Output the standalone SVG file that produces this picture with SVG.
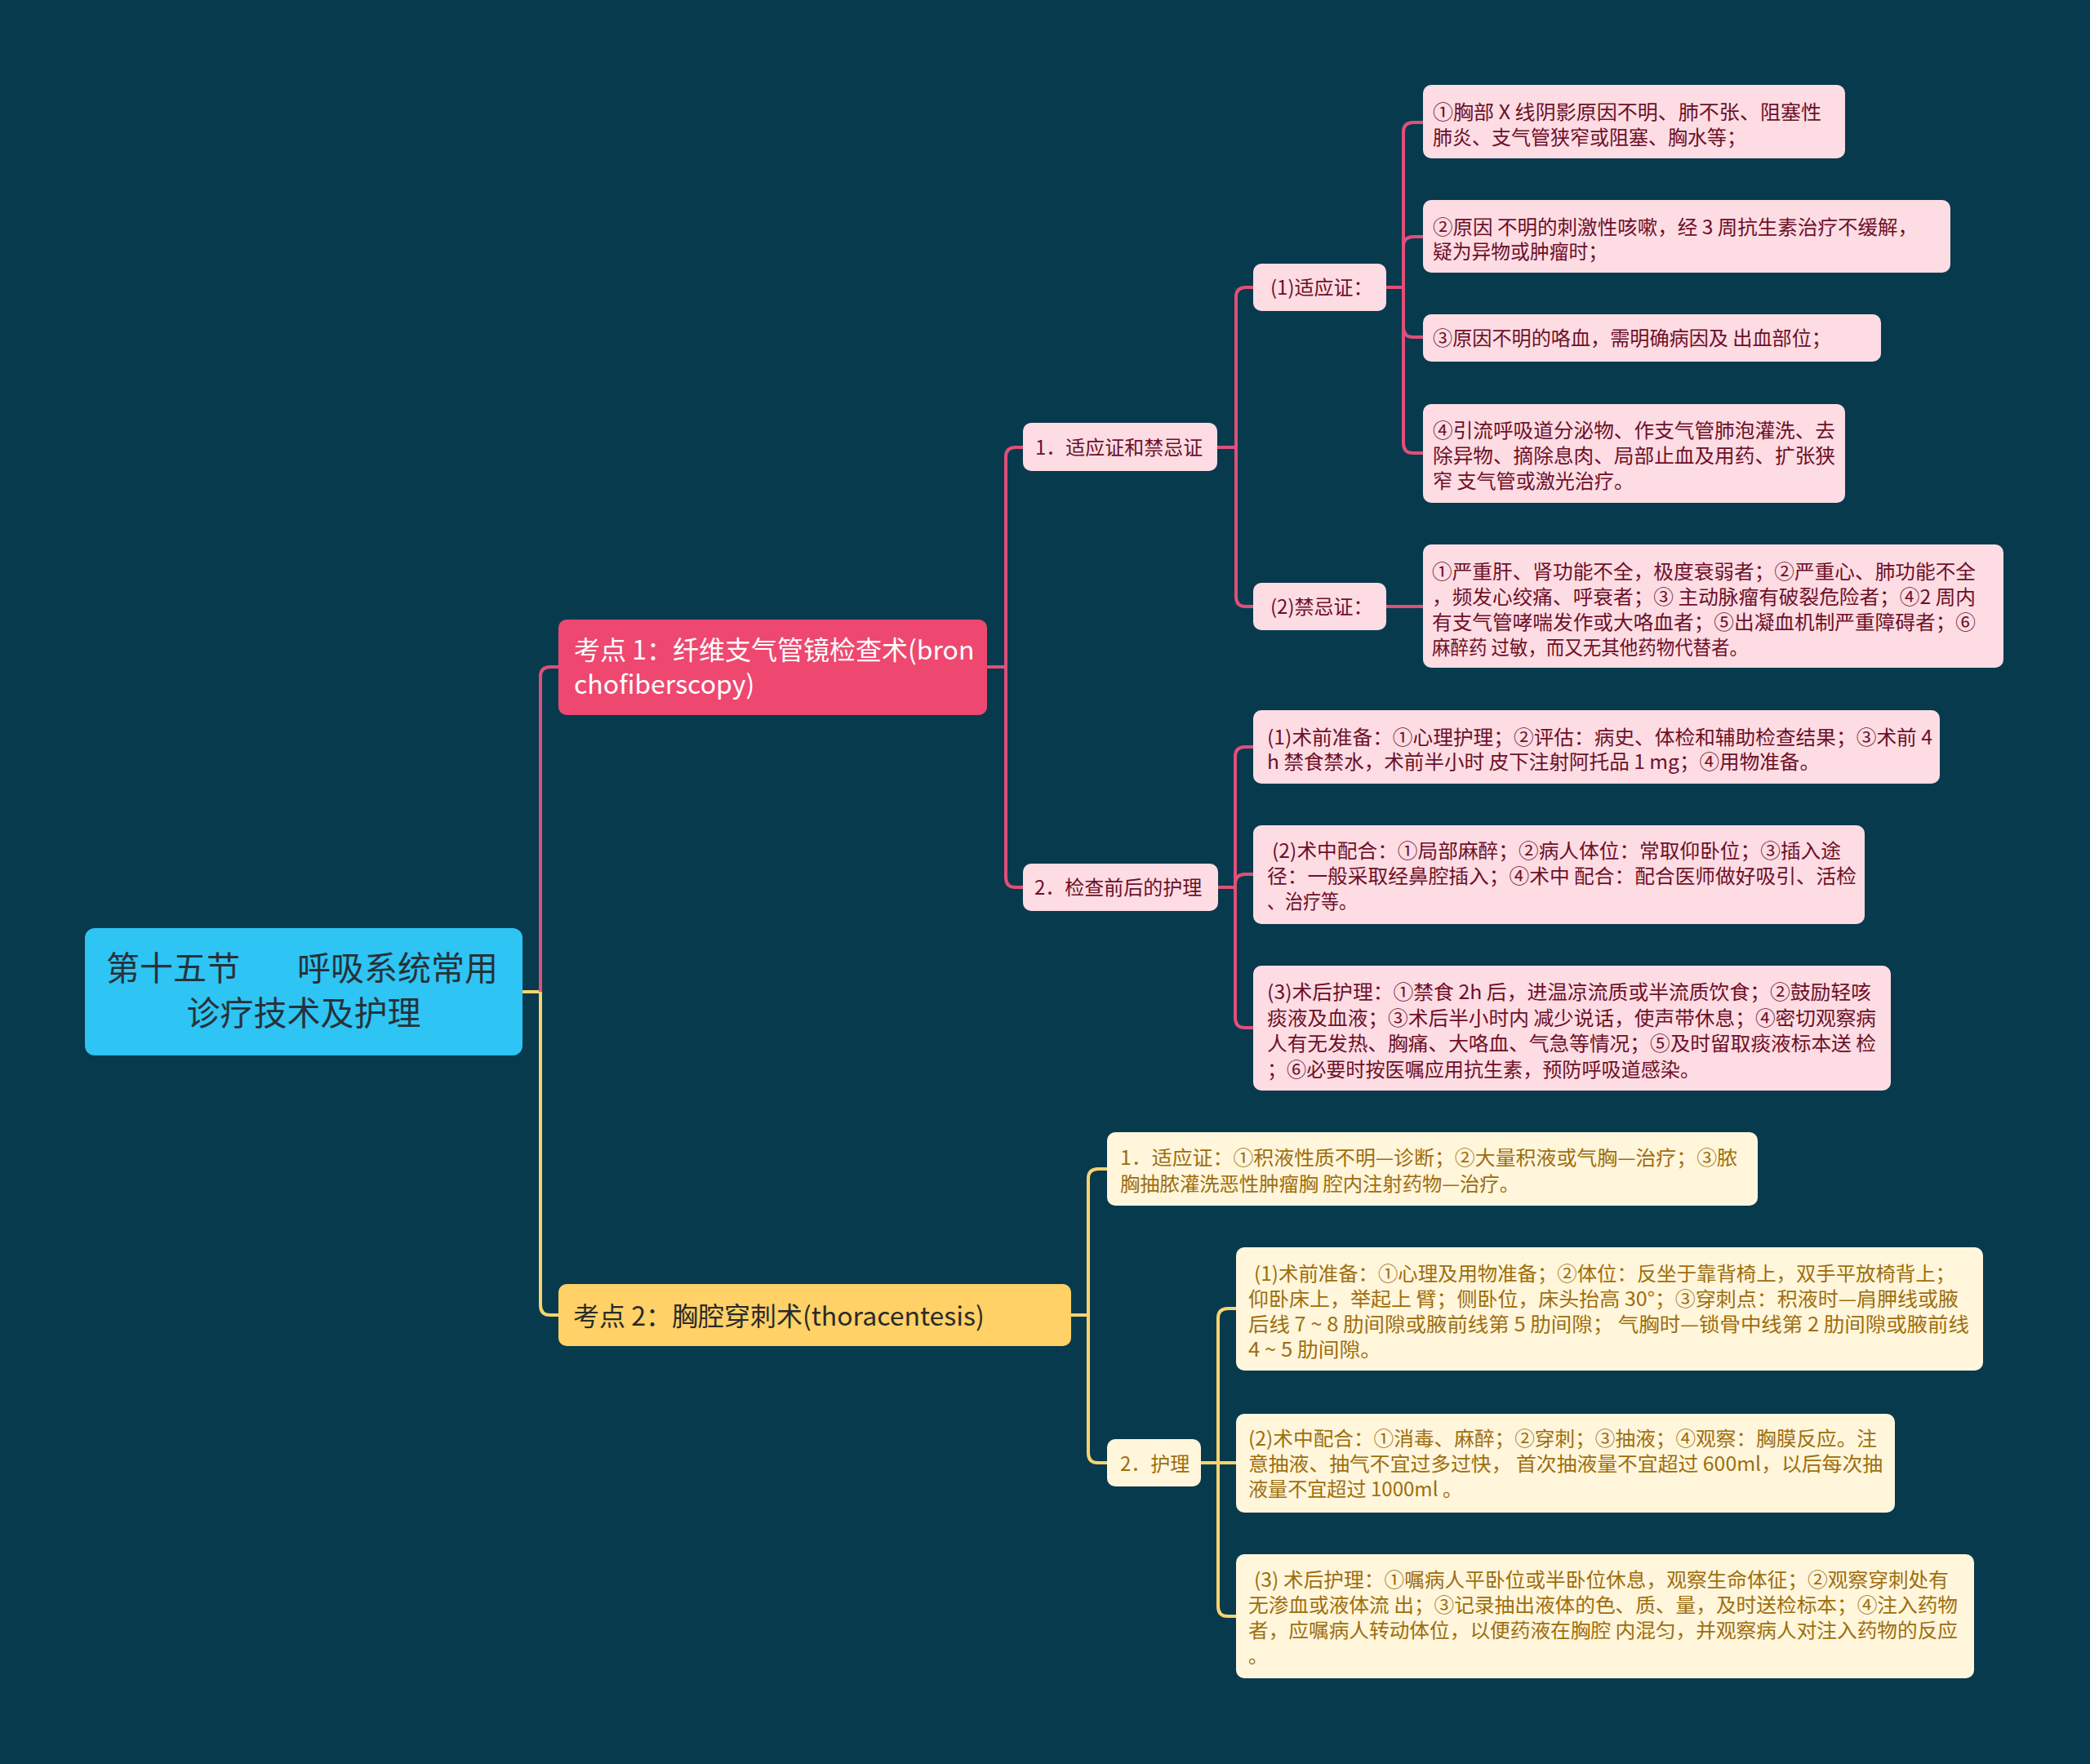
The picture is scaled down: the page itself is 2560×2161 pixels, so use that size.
<svg xmlns="http://www.w3.org/2000/svg" width="2560" height="2161" viewBox="0 0 2560 2161">
<style>
text{font-family:"Noto Sans CJK SC","Noto Sans",sans-serif;}
.cp{fill:none;stroke:#DE507A;stroke-width:4;}
.cy{fill:none;stroke:#F7D36E;stroke-width:4;}
.pk{fill:#FDDCE4;}
.ye{fill:#FFF6DC;}
.tp{fill:#6E1027;font-size:24px;}
.ty{fill:#9E6E0E;font-size:24px;}
</style>
<rect x="0" y="0" width="2560" height="2161" fill="#083A4D"/>
<g id="connectors">
<path class="cy" d="M640,1215 H662 V1599 Q662,1611 674,1611 H684"/>
<path class="cp" d="M662,1215 V829 Q662,817 674,817 H684"/>
<path class="cp" d="M1209,817 H1232 M1232,817 V560 Q1232,548 1244,548 H1253 M1232,817 V1075 Q1232,1087 1244,1087 H1253"/>
<path class="cp" d="M1491,548 H1514 M1514,548 V364 Q1514,352 1526,352 H1535 M1514,548 V731 Q1514,743 1526,743 H1535"/>
<path class="cp" d="M1698,352 H1719 M1719,352 V162 Q1719,150 1731,150 H1743 M1719,352 V302 Q1719,290 1731,290 H1743 M1719,352 V401 Q1719,413 1731,413 H1743 M1719,352 V543 Q1719,555 1731,555 H1743"/>
<path class="cp" d="M1698,743 H1743"/>
<path class="cp" d="M1492,1087 H1513 M1513,1087 V927 Q1513,915 1525,915 H1535 M1513,1087 V1083 Q1513,1071 1525,1071 H1535 M1513,1087 V1247 Q1513,1259 1525,1259 H1535"/>
<path class="cy" d="M1312,1611 H1333 M1333,1611 V1444 Q1333,1432 1345,1432 H1356 M1333,1611 V1780 Q1333,1792 1345,1792 H1356"/>
<path class="cy" d="M1471,1792 H1514 M1492,1792 V1615 Q1492,1603 1504,1603 H1514 M1492,1792 V1968 Q1492,1980 1504,1980 H1514"/>
</g>
<g id="root">
<rect x="104" y="1137" width="536" height="156" rx="12" fill="#2EC4F4"/>
<text font-size="41" fill="#263238"><tspan x="130" y="1201">第十五节</tspan><tspan x="364" y="1201">呼吸系统常用</tspan></text>
<text x="372" y="1256" font-size="41" fill="#263238" text-anchor="middle">诊疗技术及护理</text>
</g>
<g id="topic1">
<rect x="684" y="759" width="525" height="117" rx="10" fill="#EE4870"/>
<text font-size="32" fill="#FFFFFF"><tspan x="703" y="808">考点 1：纤维支气管镜检查术(bron</tspan><tspan x="703" y="850">chofiberscopy)</tspan></text>
</g>
<g id="topic2">
<rect x="684" y="1573" width="628" height="76" rx="10" fill="#FFD166"/>
<text x="702" y="1624" font-size="32" fill="#2A2A2A">考点 2：胸腔穿刺术(thoracentesis)</text>
</g>
<g id="n1">
<rect class="pk" x="1253" y="518" width="238" height="59" rx="10"/>
<text class="tp" x="1268" y="557">1．适应证和禁忌证</text>
</g>
<g id="n2">
<rect class="pk" x="1253" y="1058" width="239" height="58" rx="10"/>
<text class="tp" x="1267" y="1096">2．检查前后的护理</text>
</g>
<g id="n11">
<rect class="pk" x="1535" y="323" width="163" height="58" rx="10"/>
<text class="tp" x="1556" y="361">(1)适应证：</text>
</g>
<g id="n12">
<rect class="pk" x="1535" y="714" width="163" height="58" rx="10"/>
<text class="tp" x="1556" y="752">(2)禁忌证：</text>
</g>
<g id="a1">
<rect class="pk" x="1743" y="104" width="517" height="90" rx="10"/>
<text class="tp" x="1755" y="146" textLength="476" lengthAdjust="spacingAndGlyphs">①胸部 X 线阴影原因不明、肺不张、阻塞性</text>
<text class="tp" x="1755" y="177" textLength="384" lengthAdjust="spacingAndGlyphs">肺炎、支气管狭窄或阻塞、胸水等；</text>
</g>
<g id="a2">
<rect class="pk" x="1743" y="245" width="646" height="89" rx="10"/>
<text class="tp" x="1755" y="287" textLength="594" lengthAdjust="spacingAndGlyphs">②原因 不明的刺激性咳嗽，经 3 周抗生素治疗不缓解，</text>
<text class="tp" x="1755" y="317" textLength="214" lengthAdjust="spacingAndGlyphs">疑为异物或肿瘤时；</text>
</g>
<g id="a3">
<rect class="pk" x="1743" y="385" width="561" height="58" rx="10"/>
<text class="tp" x="1755" y="423" textLength="488" lengthAdjust="spacingAndGlyphs">③原因不明的咯血，需明确病因及 出血部位；</text>
</g>
<g id="a4">
<rect class="pk" x="1743" y="495" width="517" height="121" rx="10"/>
<text class="tp" x="1755" y="536" textLength="493" lengthAdjust="spacingAndGlyphs">④引流呼吸道分泌物、作支气管肺泡灌洗、去</text>
<text class="tp" x="1755" y="567" textLength="493" lengthAdjust="spacingAndGlyphs">除异物、摘除息肉、局部止血及用药、扩张狭</text>
<text class="tp" x="1755" y="598" textLength="246" lengthAdjust="spacingAndGlyphs">窄 支气管或激光治疗。</text>
</g>
<g id="b1">
<rect class="pk" x="1743" y="667" width="711" height="151" rx="10"/>
<text class="tp" x="1754" y="709" textLength="666" lengthAdjust="spacingAndGlyphs">①严重肝、肾功能不全，极度衰弱者；②严重心、肺功能不全</text>
<text class="tp" x="1754" y="740" textLength="666" lengthAdjust="spacingAndGlyphs">，频发心绞痛、呼衰者；③ 主动脉瘤有破裂危险者；④2 周内</text>
<text class="tp" x="1754" y="771" textLength="666" lengthAdjust="spacingAndGlyphs">有支气管哮喘发作或大咯血者；⑤出凝血机制严重障碍者；⑥</text>
<text class="tp" x="1754" y="802" textLength="387" lengthAdjust="spacingAndGlyphs">麻醉药 过敏，而又无其他药物代替者。</text>
</g>
<g id="e1">
<rect class="pk" x="1535" y="870" width="841" height="90" rx="10"/>
<text class="tp" x="1552" y="912" textLength="815" lengthAdjust="spacingAndGlyphs">(1)术前准备：①心理护理；②评估：病史、体检和辅助检查结果；③术前 4</text>
<text class="tp" x="1552" y="942" textLength="677" lengthAdjust="spacingAndGlyphs">h 禁食禁水，术前半小时 皮下注射阿托品 1 mg；④用物准备。</text>
</g>
<g id="e2">
<rect class="pk" x="1535" y="1011" width="749" height="121" rx="10"/>
<text class="tp" x="1558" y="1051" textLength="697" lengthAdjust="spacingAndGlyphs">(2)术中配合：①局部麻醉；②病人体位：常取仰卧位；③插入途</text>
<text class="tp" x="1552" y="1082" textLength="722" lengthAdjust="spacingAndGlyphs">径：一般采取经鼻腔插入；④术中 配合：配合医师做好吸引、活检</text>
<text class="tp" x="1552" y="1113" textLength="110" lengthAdjust="spacingAndGlyphs">、治疗等。</text>
</g>
<g id="e3">
<rect class="pk" x="1535" y="1183" width="781" height="153" rx="10"/>
<text class="tp" x="1552" y="1224" textLength="740" lengthAdjust="spacingAndGlyphs">(3)术后护理：①禁食 2h 后，进温凉流质或半流质饮食；②鼓励轻咳</text>
<text class="tp" x="1552" y="1256" textLength="746" lengthAdjust="spacingAndGlyphs">痰液及血液；③术后半小时内 减少说话，使声带休息；④密切观察病</text>
<text class="tp" x="1552" y="1287" textLength="746" lengthAdjust="spacingAndGlyphs">人有无发热、胸痛、大咯血、气急等情况；⑤及时留取痰液标本送 检</text>
<text class="tp" x="1552" y="1319" textLength="530" lengthAdjust="spacingAndGlyphs">；⑥必要时按医嘱应用抗生素，预防呼吸道感染。</text>
</g>
<g id="c1">
<rect class="ye" x="1356" y="1387" width="797" height="90" rx="10"/>
<text class="ty" x="1372" y="1427" textLength="756" lengthAdjust="spacingAndGlyphs">1．适应证：①积液性质不明—诊断；②大量积液或气胸—治疗；③脓</text>
<text class="ty" x="1372" y="1459" textLength="489" lengthAdjust="spacingAndGlyphs">胸抽脓灌洗恶性肿瘤胸 腔内注射药物—治疗。</text>
</g>
<g id="c2">
<rect class="ye" x="1356" y="1763" width="115" height="58" rx="10"/>
<text class="ty" x="1372" y="1802">2．护理</text>
</g>
<g id="d1">
<rect class="ye" x="1514" y="1528" width="915" height="151" rx="10"/>
<text class="ty" x="1536" y="1569" textLength="859" lengthAdjust="spacingAndGlyphs">(1)术前准备：①心理及用物准备；②体位：反坐于靠背椅上，双手平放椅背上；</text>
<text class="ty" x="1529" y="1600" textLength="870" lengthAdjust="spacingAndGlyphs">仰卧床上，举起上 臂；侧卧位，床头抬高 30°；③穿刺点：积液时—肩胛线或腋</text>
<text class="ty" x="1529" y="1631" textLength="883" lengthAdjust="spacingAndGlyphs">后线 7 ~ 8 肋间隙或腋前线第 5 肋间隙； 气胸时—锁骨中线第 2 肋间隙或腋前线</text>
<text class="ty" x="1529" y="1662" textLength="163" lengthAdjust="spacingAndGlyphs">4 ~ 5 肋间隙。</text>
</g>
<g id="d2">
<rect class="ye" x="1514" y="1732" width="807" height="121" rx="10"/>
<text class="ty" x="1529" y="1771" textLength="770" lengthAdjust="spacingAndGlyphs">(2)术中配合：①消毒、麻醉；②穿刺；③抽液；④观察：胸膜反应。注</text>
<text class="ty" x="1529" y="1802" textLength="777" lengthAdjust="spacingAndGlyphs">意抽液、抽气不宜过多过快， 首次抽液量不宜超过 600ml，以后每次抽</text>
<text class="ty" x="1529" y="1833" textLength="262" lengthAdjust="spacingAndGlyphs">液量不宜超过 1000ml 。</text>
</g>
<g id="d3">
<rect class="ye" x="1514" y="1904" width="904" height="152" rx="10"/>
<text class="ty" x="1536" y="1944" textLength="851" lengthAdjust="spacingAndGlyphs">(3) 术后护理：①嘱病人平卧位或半卧位休息，观察生命体征；②观察穿刺处有</text>
<text class="ty" x="1529" y="1975" textLength="869" lengthAdjust="spacingAndGlyphs">无渗血或液体流 出；③记录抽出液体的色、质、量，及时送检标本；④注入药物</text>
<text class="ty" x="1529" y="2006" textLength="869" lengthAdjust="spacingAndGlyphs">者，应嘱病人转动体位，以便药液在胸腔 内混匀，并观察病人对注入药物的反应</text>
<text class="ty" x="1529" y="2037">。</text>
</g>
</svg>
